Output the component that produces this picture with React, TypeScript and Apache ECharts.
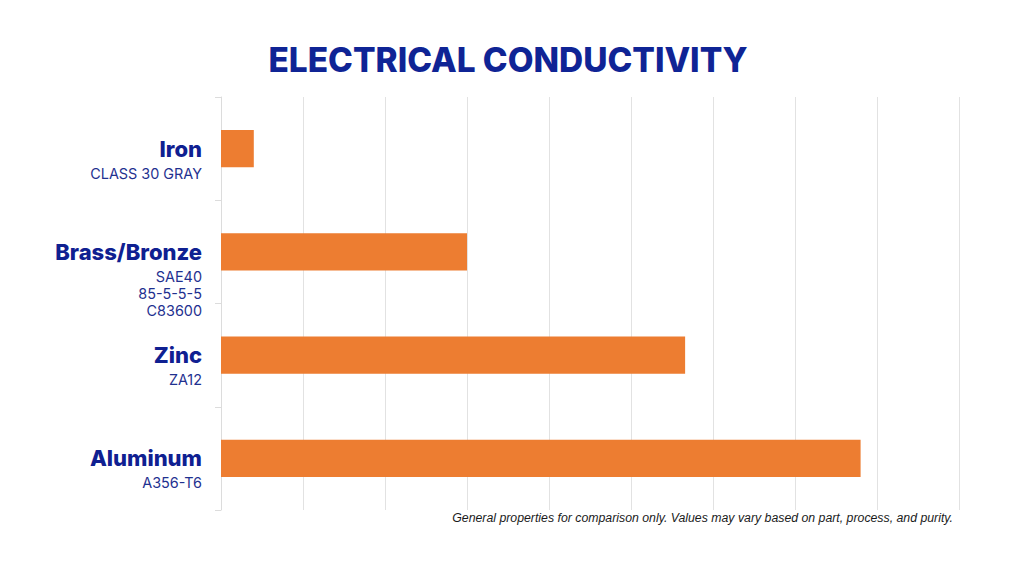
import React, { useEffect, useRef } from "react";
import * as echarts from "echarts";

const categories = ["Iron", "Brass/Bronze", "Zinc", "Aluminum"];
const subLabels = [["CLASS 30 GRAY"], ["SAE40", "85-5-5-5", "C83600"], ["ZA12"], ["A356-T6"]];
const values = [2, 15, 28.3, 39];
const title = "ELECTRICAL CONDUCTIVITY";
const footnote = "General properties for comparison only. Values may vary based on part, process, and purity.";

const SUB_LH = 17;

export default function App() {
  const ref = useRef<HTMLDivElement>(null);
  useEffect(() => {
    if (!ref.current) return;
    const chart = echarts.init(ref.current, null, { renderer: "svg" });
    chart.setOption({
      animation: false,
      backgroundColor: "#ffffff",
      title: {
        text: title,
        left: 503,
        textAlign: "center",
        top: 38,
        textStyle: {
          fontFamily: "Inter",
          fontWeight: 800,
          fontSize: 33.4,
          color: "#0f2495",
        },
      },
      graphic: [
        {
          type: "text",
          right: 71,
          top: 512,
          style: {
            text: footnote,
            font: "italic 12.3px 'Liberation Sans'",
            fill: "#1a1a1a",
          },
        },
      ],
      grid: { left: 221, right: 65, top: 97, bottom: 66, containLabel: false },
      xAxis: {
        type: "value",
        min: 0,
        max: 45,
        interval: 5,
        axisLabel: { show: false },
        axisLine: { show: false },
        axisTick: { show: false },
        splitLine: { show: true, lineStyle: { color: "#e2e2e2", width: 1 } },
      },
      yAxis: {
        type: "category",
        inverse: true,
        data: categories,
        axisLine: { show: true, lineStyle: { color: "#dcdcdc" } },
        axisTick: { show: true, length: 6, lineStyle: { color: "#dcdcdc" } },
        axisLabel: {
          margin: 19,
          align: "right",
          formatter: (val: string, idx: number) => {
            const subs = subLabels[idx] || [];
            const padLines = subs.map(() => "{pad| }").join("\n");
            return padLines + "\n{name|" + val + "}\n" + subs.map((s) => "{sub|" + s + "}").join("\n");
          },
          rich: {
            pad: { fontSize: 10, lineHeight: SUB_LH },
            name: {
              fontFamily: "Inter",
              fontWeight: 800,
              fontSize: 22,
              lineHeight: 32,
              color: "#0f2091",
              align: "right",
            },
            sub: {
              fontFamily: "Inter",
              fontSize: 14.4,
              lineHeight: SUB_LH,
              color: "#1f3190",
              align: "right",
            },
          },
        },
      },
      series: [
        {
          type: "bar",
          data: values,
          barWidth: "36%",
          itemStyle: { color: "#ed7d31" },
        },
      ],
    });
    return () => chart.dispose();
  }, []);
  return (
    <div
      ref={ref}
      style={{ position: "absolute", left: 0, top: 0, width: 1024, height: 576 }}
    />
  );
}
